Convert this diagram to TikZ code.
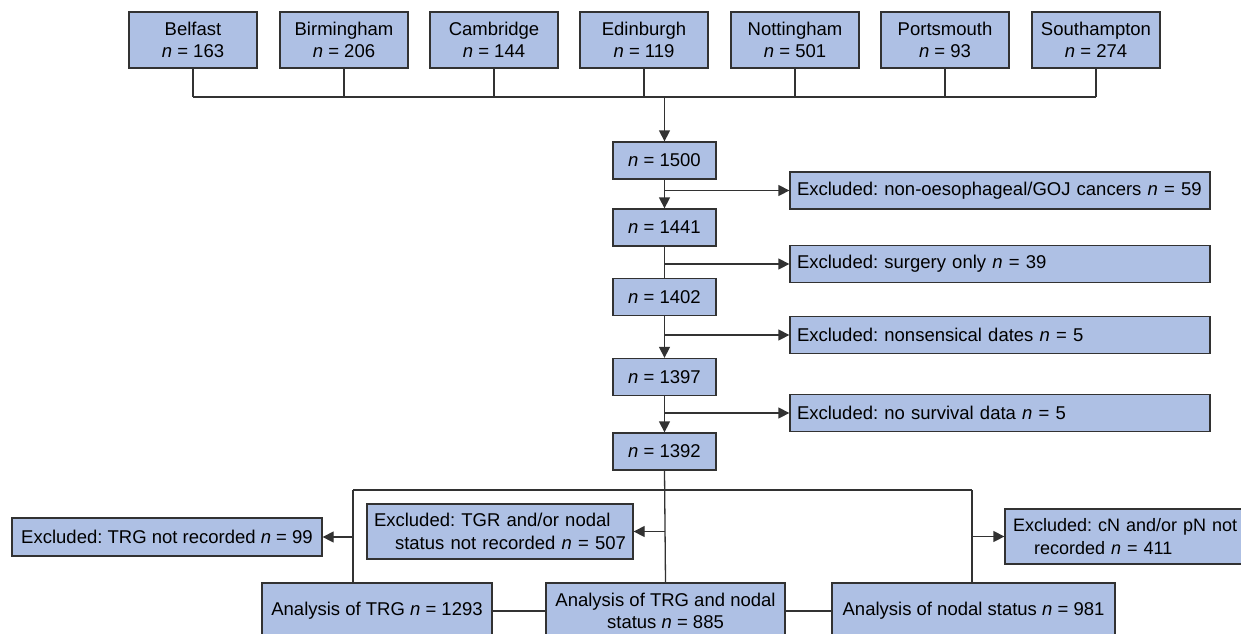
\documentclass[tikz,border=0pt]{standalone}
\usepackage{fontspec}
\setmainfont{Liberation Sans}
\usetikzlibrary{arrows.meta}
\definecolor{boxblue}{RGB}{174,192,228}
\definecolor{edge}{RGB}{50,50,50}
\begin{document}
\frenchspacing
\begin{tikzpicture}[x=1pt,y=-1pt,
  box/.style={draw=edge, fill=boxblue, line width=1.3pt, inner sep=0pt,
              font=\fontsize{18.5}{22.5}\selectfont\frenchspacing, align=center},
  topbox/.style={box, minimum width=128pt, minimum height=56pt},
  nbox/.style={box, minimum width=103pt, minimum height=37pt},
  exbox/.style={box, minimum width=420pt, minimum height=37pt, text width=406pt, align=left},
  anbox/.style={box, minimum height=56pt},
  line/.style={draw=edge, line width=1.3pt},
  arr/.style={line, -{Triangle[length=11pt,width=11pt]}}]
\useasboundingbox (0,0) rectangle (1241,633);
\clip (0,0) rectangle (1241,633);

% top centres
\node[topbox] (bel) at (193,40) {Belfast\\\textit{n} = 163};
\node[topbox] (bir) at (344,40) {Birmingham\\\textit{n} = 206};
\node[topbox] (cam) at (494,40) {Cambridge\\\textit{n} = 144};
\node[topbox] (edi) at (644,40) {Edinburgh\\\textit{n} = 119};
\node[topbox] (not) at (795,40) {Nottingham\\\textit{n} = 501};
\node[topbox] (por) at (945,40) {Portsmouth\\\textit{n} = 93};
\node[topbox] (sou) at (1096,40) {Southampton\\\textit{n} = 274};

% main column
\node[nbox] (n1500) at (664.5,160.5) {\textit{n} = 1500};
\node[nbox] (n1441) at (664.5,227.5) {\textit{n} = 1441};
\node[nbox] (n1402) at (664.5,297) {\textit{n} = 1402};
\node[nbox] (n1397) at (664.5,377) {\textit{n} = 1397};
\node[nbox] (n1392) at (664.5,451.5) {\textit{n} = 1392};

% exclusions right
\node[exbox] (e59) at (1000,190.5) {Excluded:\ non-oesophageal/GOJ cancers \textit{n} = 59};
\node[exbox] (e39) at (1000,264) {Excluded:\ surgery only \textit{n} = 39};
\node[exbox] (e5a) at (1000,335) {Excluded:\ nonsensical dates \textit{n} = 5};
\node[exbox] (e5b) at (1000,413) {Excluded:\ no survival data \textit{n} = 5};

% lower exclusions
\node[box, minimum width=310pt, minimum height=38pt] (xtrg) at (167,537) {Excluded:\ TRG not recorded \textit{n} = 99};
\node[box, minimum width=266pt, minimum height=55pt, text width=252pt, align=left] (xmid) at (500,531.5)
  {Excluded:\ TGR and/or nodal\\\hspace*{21pt}status not recorded \textit{n} = 507};
\node[box, minimum width=260pt, minimum height=55pt, text width=244pt, align=left,
      font=\fontsize{18}{22.5}\selectfont\frenchspacing] (xcn) at (1135,536.5)
  {Excluded:\ cN and/or pN not\\\hspace*{21pt}recorded \textit{n} = 411};

% analyses
\node[anbox, minimum width=230pt] (atrg) at (377,611) {Analysis of TRG \textit{n} = 1293};
\node[anbox, minimum width=239pt] (amid) at (665.5,611) {Analysis of TRG and nodal\\status \textit{n} = 885};
\node[anbox, minimum width=283pt] (anod) at (973.5,611) {Analysis of nodal status \textit{n} = 981};

% top merge
\coordinate (j) at (664.5,97);
\foreach \c in {bel,bir,cam,edi,not,por,sou}
  \draw[line] (\c.south) -- (\c.south |- j);
\draw[line] (bel.south |- j) -- (sou.south |- j);
\draw[arr] (j) -- (n1500.north);

% main column
\draw[arr] (n1500) -- (n1441);
\draw[line] (n1441) -- (n1402);
\draw[arr] (n1402) -- (n1397);
\draw[arr] (n1397) -- (n1392);

\draw[arr] (n1500.south |- e59) -- (e59.west);
\draw[arr] (n1441.south |- e39) -- (e39.west);
\draw[arr] (n1402.south |- e5a) -- (e5a.west);
\draw[arr] (n1397.south |- e5b) -- (e5b.west);

% lower split
\coordinate (bl) at (353,490);
\coordinate (br) at (972,490);
\draw[line] (bl) -- (br);
\draw[line] (n1392.south) -- (amid.north);
\draw[line] (bl) -- (bl |- atrg.north);
\draw[line] (br) -- (br |- anod.north);
\draw[arr] (bl |- xtrg) -- (xtrg.east);
\draw[arr] (n1392.south |- xmid) -- (xmid.east);
\draw[arr] (br |- xcn) -- (xcn.west);

\draw[line] (atrg.east) -- (amid.west);
\draw[line] (amid.east) -- (anod.west);
\end{tikzpicture}
\end{document}
